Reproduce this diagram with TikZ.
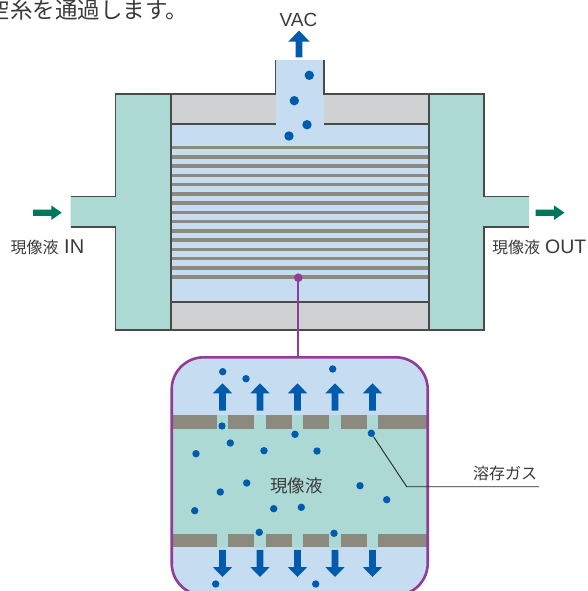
\documentclass[tikz,border=0pt]{standalone}
\usepackage{fontspec}
\newfontfamily\jpfont{Noto Sans CJK JP}
\newfontfamily\latfont{Liberation Sans}
\definecolor{tealfill}{HTML}{ADD9D5}
\definecolor{skyfill}{HTML}{C6DCF0}
\definecolor{capgray}{HTML}{D0D1D3}
\definecolor{fibergray}{HTML}{8C8A7E}
\definecolor{edge}{HTML}{4A4A4A}
\definecolor{gasblue}{HTML}{005BAC}
\definecolor{flowgreen}{HTML}{00775C}
\definecolor{probecol}{HTML}{913C97}
\definecolor{ink}{HTML}{3A3A3A}
\tikzset{
  outline/.style={draw=edge, line width=1.3pt},
  bubble/.style={circle, fill=gasblue, inner sep=0pt, minimum size=7.4pt},
  bigbubble/.style={bubble, minimum size=9.4pt},
  txt/.style={text=ink, inner sep=0pt},
  leader/.style={draw=black!85, line width=0.9pt},
  % block arrows, drawn pointing up from their base
  pics/vacarrow/.style={code={
    \fill[gasblue] (-3.4,0) -- (-3.4,-15.6) -- (-10.9,-15.6) -- (0,-26.6)
      -- (10.9,-15.6) -- (3.4,-15.6) -- (3.4,0) -- cycle;}},
  pics/porearrow/.style={code={
    \fill[gasblue] (-3.4,0) -- (-3.4,-17.2) -- (-9.7,-17.2) -- (0,-27.2)
      -- (9.7,-17.2) -- (3.4,-17.2) -- (3.4,0) -- cycle;}},
  pics/flowarrow/.style={code={
    \fill[flowgreen] (-3.1,0) -- (-3.1,-18.4) -- (-7.2,-18.4) -- (0,-28.7)
      -- (7.2,-18.4) -- (3.1,-18.4) -- (3.1,0) -- cycle;}},
}
\begin{document}
\begin{tikzpicture}[x=1pt,y=-1pt]
\clip (0,0) rectangle (588,591);

% module housing: end caps, potting and shell
\fill[tealfill] (70.7,196.7) -- (115.7,196.7) -- (115.7,94) -- (171,94) -- (171,330)
  -- (115.7,330) -- (115.7,227) -- (70.7,227) -- cycle;
\fill[tealfill] (529,196.7) -- (484,196.7) -- (484,94) -- (429,94) -- (429,330)
  -- (484,330) -- (484,227) -- (529,227) -- cycle;
\fill[capgray] (171,94) rectangle (429,124);
\fill[capgray] (171,302) rectangle (429,330);
\fill[skyfill] (171,124) rectangle (429,302);
\fill[skyfill] (275.7,60) rectangle (324,124.6);

% hollow fibres
\foreach \i in {0,...,14}
  \fill[fibergray] (171,{147.7+9.24*\i-1.7}) rectangle (429,{147.7+9.24*\i+1.7});

% housing outline
\draw[outline] (70.7,196.7) -- (115.7,196.7) -- (115.7,94) -- (275.7,94) -- (275.7,60);
\draw[outline] (324,60) -- (324,94) -- (484,94) -- (484,196.7) -- (529,196.7);
\draw[outline] (70.7,227) -- (115.7,227) -- (115.7,330) -- (484,330) -- (484,227) -- (529,227);
\draw[outline] (171,94) -- (171,330) (429,94) -- (429,330);
\draw[outline] (171,124) -- (275.7,124) (324,124) -- (429,124) (171,302) -- (429,302);

% gas bubbles leaving through the vacuum port
\node[bigbubble] (v1) at (309.3,75.3) {};
\node[bigbubble] (v2) at (294.3,100.7) {};
\node[bigbubble] (v3) at (307,124.7) {};
\node[bigbubble] (v4) at (289,136) {};

% flow arrows
\pic at (299,57.3) {vacarrow};
\pic[rotate=-90] at (33,212.7) {flowarrow};
\pic[rotate=-90] at (535.7,212.7) {flowarrow};

% texts
\node[txt, anchor=east] (headline) at (188,9.5)
  {\jpfont\fontsize{22.5}{26}\selectfont 中空糸を通過します。};
\node[txt] (vac) at (298.5,20) {\latfont\fontsize{19}{22}\selectfont VAC};
\node[txt, anchor=west] (inlabel) at (10.5,247.5)
  {\jpfont\fontsize{16}{19}\selectfont 現像液\hspace{5.5pt}\latfont\fontsize{20}{22}\selectfont IN};
\node[txt, anchor=west] (outlabel) at (492,247)
  {\jpfont\fontsize{16}{19}\selectfont 現像液\hspace{5pt}\latfont\fontsize{19.5}{22}\selectfont OUT};

% enlarged membrane section
\begin{scope}
  \clip[rounded corners=32pt] (171.7,357.3) rectangle (427.7,595.3);
  \fill[skyfill] (171.7,357.3) rectangle (427.7,595.3);
  \fill[tealfill] (171.7,429) rectangle (427.7,534);
  \foreach \y/\h in {415/14, 534/13.4} {
    \fill[fibergray] (171.7,\y) rectangle (427.7,\y+\h);
    \foreach \c in {222.5,260,297.5,335,372.5}
      \fill[tealfill] (\c-5.8,\y-0.2) rectangle (\c+5.8,\y+\h+0.2);
  }
\end{scope}
\node[draw=probecol, line width=2.6pt, rounded corners=32pt, minimum width=256pt,
  minimum height=238pt, inner sep=0pt] (detail) at (299.7,476.3) {};

% gas passing the membrane pores
\foreach \c in {222.5,260,297.5,335,372.5} {
  \pic at (\c,410.5) {porearrow};
  \pic[rotate=180] at (\c,549.8) {porearrow};
}

% dissolved gas bubbles
\foreach \n/\p in {1/{222.7,371.7}, 2/{246,378.7}, 3/{332.7,369}, 4/{222,426},
    5/{230.3,443}, 6/{295,434.3}, 7/{196,453.7}, 8/{264,450.7}, 9/{317,451},
    10/{246.7,483}, 11/{220.3,492}, 12/{360,485.7}, 13/{386.7,499.7},
    14/{194.7,510.7}, 15/{273.7,508.7}, 16/{301.3,507.3}, 17/{259.3,532.3},
    18/{334,533.3}, 19/{215.7,584}, 20/{315.7,584}}
  \node[bubble] (d\n) at (\p) {};
\node[bubble] (gasdot) at (371.3,433.3) {};

\node[txt] (liquid) at (296.7,486) {\jpfont\fontsize{17.5}{20}\selectfont 現像液};

% dissolved gas callout
\coordinate (bend) at (406.7,486.7);
\coordinate (tail) at (539,486.7);
\node[txt] (gaslabel) at (505,473.3) {\jpfont\fontsize{16}{19}\selectfont 溶存ガス};
\draw[leader] (gasdot) -- (bend) -- (tail);

% probe marker linking the fibre bundle to the enlarged section
\node[circle, fill=probecol, inner sep=0pt, minimum size=8.7pt] (probe) at (298.3,277.7) {};
\draw[probecol, line width=2.2pt] (probe) -- (probe |- detail.north);
\end{tikzpicture}
\end{document}
